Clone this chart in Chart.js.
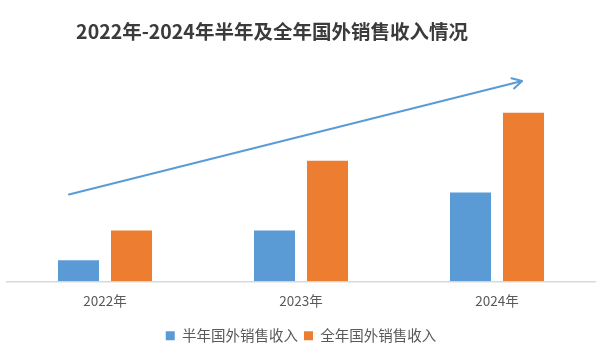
<!DOCTYPE html>
<html>
<head>
<meta charset="utf-8">
<script src="https://cdn.jsdelivr.net/npm/chart.js@4"></script>
<style>
  html, body { margin: 0; padding: 0; background: #ffffff; }
  #wrap { width: 600px; height: 357px; position: relative; }
</style>
</head>
<body>
<div id="wrap"><canvas id="c"></canvas></div>
<script>
const TITLE = '2022年-2024年半年及全年国外销售收入情况';
const categories = ['2022年', '2023年', '2024年'];
const seriesNames = ['半年国外销售收入', '全年国外销售收入'];
const halfYear = [21, 51, 89];
const fullYear = [51, 121, 169];
// trend arrow endpoints in data space (category index, value)
const arrowFrom = [-0.184, 87];
const arrowTo = [2.128, 201];

const FONT = '"Noto Sans CJK SC", "Noto Sans", sans-serif';

const titlePlugin = {
  id: 'leftTitle',
  afterDraw(chart) {
    const ctx = chart.ctx;
    ctx.save();
    ctx.font = 'bold 19.5px ' + FONT;
    ctx.fillStyle = '#3b3b3b';
    ctx.textAlign = 'center';
    ctx.textBaseline = 'middle';
    ctx.fillText(TITLE, 272, 32);
    ctx.restore();
  }
};

const arrowPlugin = {
  id: 'trendArrow',
  afterDatasetsDraw(chart) {
    const xs = chart.scales.x, ys = chart.scales.y;
    const cw = xs.getPixelForValue(1) - xs.getPixelForValue(0);
    const x0 = xs.getPixelForValue(0) + arrowFrom[0] * cw;
    const x1 = xs.getPixelForValue(0) + arrowTo[0] * cw;
    const y0 = ys.getPixelForValue(arrowFrom[1]);
    const y1 = ys.getPixelForValue(arrowTo[1]);
    const ctx = chart.ctx;
    const ang = Math.atan2(y1 - y0, x1 - x0);
    const L = 11, a = 0.5;
    ctx.save();
    ctx.strokeStyle = '#5B9BD5';
    ctx.lineWidth = 2;
    ctx.lineCap = 'round';
    ctx.lineJoin = 'round';
    ctx.beginPath();
    ctx.moveTo(x0, y0);
    ctx.lineTo(x1, y1);
    ctx.moveTo(x1 - L * Math.cos(ang - a), y1 - L * Math.sin(ang - a));
    ctx.lineTo(x1, y1);
    ctx.lineTo(x1 - L * Math.cos(ang + a), y1 - L * Math.sin(ang + a));
    ctx.stroke();
    ctx.restore();
  }
};

new Chart(document.getElementById('c'), {
  type: 'bar',
  data: {
    labels: categories,
    datasets: [
      { label: seriesNames[0], data: halfYear, backgroundColor: '#5B9BD5' },
      { label: seriesNames[1], data: fullYear, backgroundColor: '#ED7D31' }
    ]
  },
  options: {
    responsive: true,
    maintainAspectRatio: false,
    animation: false,
    devicePixelRatio: 1,
    layout: { padding: { left: 7, right: 5, top: 60, bottom: 4 } },
    datasets: { bar: { categoryPercentage: 0.541, barPercentage: 0.774 } },
    scales: {
      x: {
        grid: { display: false, drawTicks: false },
        border: { display: true, color: '#d9d9d9', width: 1.5 },
        ticks: { color: '#595959', font: { family: FONT, size: 13.5 }, padding: 11 },
        afterFit(s) { s.height += 3; }
      },
      y: { display: false, min: 0, max: 222 }
    },
    plugins: {
      title: { display: false },
      tooltip: { enabled: false },
      legend: {
        position: 'bottom',
        labels: {
          boxWidth: 9, boxHeight: 9, padding: 6,
          color: '#595959',
          font: { family: FONT, size: 14.5 }
        }
      }
    }
  },
  plugins: [titlePlugin, arrowPlugin]
});
</script>
</body>
</html>
